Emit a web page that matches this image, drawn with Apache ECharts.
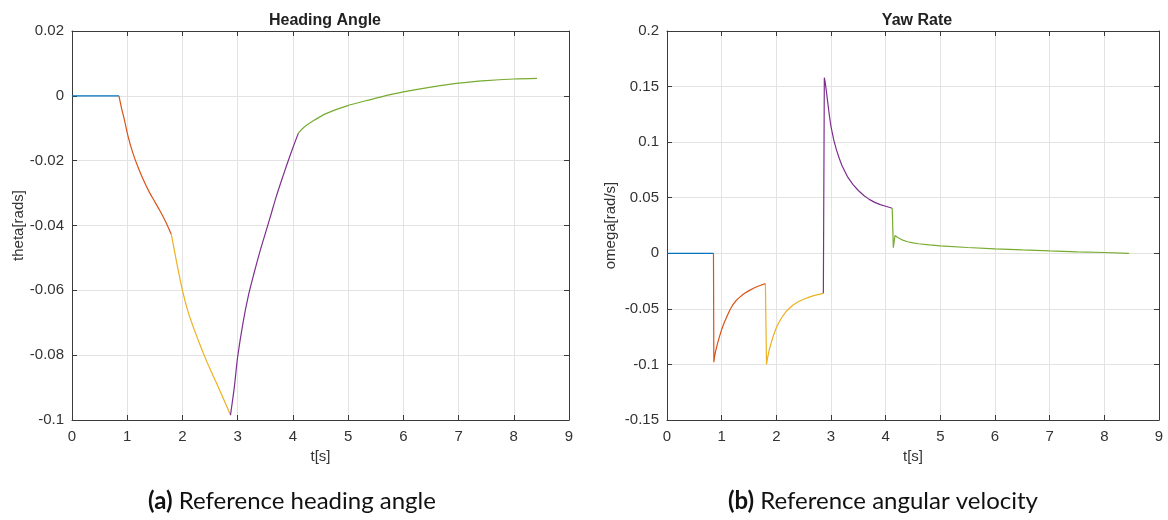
<!DOCTYPE html>
<html>
<head>
<meta charset="utf-8">
<script src="https://cdn.jsdelivr.net/npm/echarts@6/dist/echarts.min.js"></script>
<style>
html,body{margin:0;padding:0;background:#fff;}
#c{width:1168px;height:520px;}
</style>
</head>
<body>
<div id="c"></div>
<script>
// ---------- data ----------
const xTicks = [0,1,2,3,4,5,6,7,8,9];
const headingTicks = [-0.1,-0.08,-0.06,-0.04,-0.02,0,0.02];
const yawTicks = [-0.15,-0.1,-0.05,0,0.05,0.1,0.15,0.2];

const headingSeg1 = [[0,0],[0.85,0]];
const headingSeg2 = [[0.85,0],[0.9,-0.004],[0.95,-0.0075],[1.02,-0.0128],[1.1,-0.0175],[1.2,-0.0222],[1.3,-0.0262],[1.4,-0.0297],[1.5,-0.0327],[1.6,-0.0357],[1.7,-0.0390],[1.8,-0.0428]];
const headingSeg3 = [[1.8,-0.0428],[1.9,-0.0518],[2.0,-0.0600],[2.1,-0.0665],[2.2,-0.0715],[2.3,-0.0760],[2.4,-0.0803],[2.5,-0.0843],[2.6,-0.0880],[2.7,-0.0918],[2.8,-0.0957],[2.87,-0.0985]];
const headingSeg4 = [[2.87,-0.0985],[2.94,-0.0898],[3.0,-0.0805],[3.1,-0.0697],[3.2,-0.0612],[3.3,-0.0545],[3.4,-0.0482],[3.5,-0.0425],[3.6,-0.0368],[3.7,-0.0310],[3.8,-0.0258],[3.9,-0.0208],[4.0,-0.0160],[4.1,-0.0115]];
const headingSeg5 = [[4.1,-0.0115],[4.2,-0.0097],[4.37,-0.0077],[4.6,-0.0055],[4.98,-0.0031],[5.3,-0.0016],[5.6,-0.0003],[6.0,0.0012],[6.5,0.0027],[7.0,0.0039],[7.5,0.0047],[8.0,0.0052],[8.42,0.0054]];

const yawSeg1 = [[0,0],[0.85,0]];
const yawSeg2 = [[0.85,0],[0.857,-0.098],[0.87,-0.093],[0.89,-0.088],[0.92,-0.082],[0.96,-0.075],[1.0,-0.0685],[1.05,-0.062],[1.1,-0.0565],[1.15,-0.051],[1.2,-0.0467],[1.25,-0.0434],[1.3,-0.0408],[1.4,-0.0367],[1.5,-0.0336],[1.6,-0.031],[1.7,-0.029],[1.8,-0.0273]];
const yawSeg3 = [[1.8,-0.0273],[1.82,-0.100],[1.84,-0.094],[1.87,-0.087],[1.9,-0.0815],[1.95,-0.0735],[2.0,-0.067],[2.05,-0.062],[2.1,-0.0578],[2.15,-0.0543],[2.2,-0.0512],[2.3,-0.0467],[2.4,-0.0436],[2.5,-0.0413],[2.6,-0.0394],[2.7,-0.0379],[2.8,-0.0367],[2.86,-0.036]];
const yawSeg4 = [[2.86,-0.036],[2.878,0.158],[2.89,0.155],[2.91,0.148],[2.94,0.136],[2.97,0.124],[3.0,0.114],[3.05,0.102],[3.1,0.093],[3.15,0.0855],[3.2,0.079],[3.3,0.069],[3.4,0.062],[3.5,0.0565],[3.6,0.052],[3.7,0.0485],[3.8,0.0458],[3.9,0.0438],[4.0,0.0423],[4.12,0.0405]];
const yawSeg5 = [[4.12,0.0405],[4.14,0.005],[4.17,0.016],[4.22,0.0142],[4.3,0.0121],[4.4,0.0104],[4.5,0.0094],[4.6,0.0086],[4.8,0.0075],[5.0,0.0067],[5.5,0.0052],[6.0,0.004],[6.5,0.003],[7.0,0.0021],[7.5,0.0013],[8.0,0.0007],[8.45,0.0]];

const segColors = ['#0072BD','#D95319','#EDB120','#7E2F8E','#77AC30'];

// ---------- chart ----------
const chart = echarts.init(document.getElementById('c'), null, {renderer:'canvas'});
const FONT = 'Liberation Sans';
const AXC = '#3a3a3a';
const fmt = v => String(parseFloat(v.toFixed(4)));

function xAx(grid, bottom){
  return {
    type:'value', gridIndex:grid, position: bottom?'bottom':'top',
    min:xTicks[0], max:xTicks[xTicks.length-1], interval:1,
    axisLine:{show:true, onZero:false, lineStyle:{color:AXC,width:1}},
    axisTick:{show:true, inside:true, length:5, lineStyle:{color:AXC}},
    axisLabel:{show:bottom, margin:9, color:'#333', fontFamily:FONT, fontSize:15, formatter:fmt},
    splitLine:{show:bottom, lineStyle:{color:'#e3e3e3',width:1}},
    name: bottom?'t[s]':'', nameLocation:'middle', nameGap:29,
    nameTextStyle:{color:'#333', fontFamily:FONT, fontSize:15}
  };
}
function yAx(grid, left, ticks, name, gap){
  const step = +(ticks[1]-ticks[0]).toFixed(4);
  return {
    type:'value', gridIndex:grid, position: left?'left':'right',
    min:ticks[0], max:ticks[ticks.length-1], interval:step,
    axisLine:{show:true, onZero:false, lineStyle:{color:AXC,width:1}},
    axisTick:{show:true, inside:true, length:5, lineStyle:{color:AXC}},
    axisLabel:{show:left, margin:8, color:'#333', fontFamily:FONT, fontSize:15, formatter:fmt},
    splitLine:{show:left, lineStyle:{color:'#e3e3e3',width:1}},
    name: left?name:'', nameLocation:'middle', nameGap:gap,
    nameTextStyle:{color:'#333', fontFamily:FONT, fontSize:15}
  };
}
function seg(data, color, xi, yi, smooth){
  return {type:'line', data:data, xAxisIndex:xi, yAxisIndex:yi, showSymbol:false, symbol:'none',
    smooth:smooth, lineStyle:{color:color, width:1.2}, animation:false, silent:true};
}

const series = [];
[headingSeg1,headingSeg2,headingSeg3,headingSeg4,headingSeg5].forEach((d,i)=>series.push(seg(d,segColors[i],0,0,0.3)));
[yawSeg1,yawSeg2,yawSeg3,yawSeg4,yawSeg5].forEach((d,i)=>series.push(seg(d,segColors[i],2,2,false)));

chart.setOption({
  animation:false,
  backgroundColor:'#ffffff',
  title:[
    {text:'Heading Angle', left:320, top:8, textAlign:'center',
     textStyle:{fontFamily:FONT, fontSize:16, fontWeight:'bold', color:'#222'}},
    {text:'Yaw Rate', left:912, top:8, textAlign:'center',
     textStyle:{fontFamily:FONT, fontSize:16, fontWeight:'bold', color:'#222'}},
    {text:'{b|(a)} Reference heading angle', left:287, top:484, textAlign:'center',
     textStyle:{fontFamily:'Lato', fontSize:24, fontWeight:'normal', color:'#111',
       rich:{b:{fontFamily:'Lato', fontSize:24, fontWeight:'bold', color:'#111'}}}},
    {text:'{b|(b)} Reference angular velocity', left:878, top:484, textAlign:'center',
     textStyle:{fontFamily:'Lato', fontSize:24, fontWeight:'normal', color:'#111',
       rich:{b:{fontFamily:'Lato', fontSize:24, fontWeight:'bold', color:'#111'}}}}
  ],
  grid:[
    {left:72, top:31, width:497, height:389, containLabel:false},
    {left:667, top:31, width:492, height:389, containLabel:false}
  ],
  xAxis:[xAx(0,true), xAx(0,false), xAx(1,true), xAx(1,false)],
  yAxis:[yAx(0,true,headingTicks,'theta[rads]',46), yAx(0,false,headingTicks,'',0),
         yAx(1,true,yawTicks,'omega[rad/s]',49), yAx(1,false,yawTicks,'',0)],
  series:series
});
</script>
</body>
</html>
